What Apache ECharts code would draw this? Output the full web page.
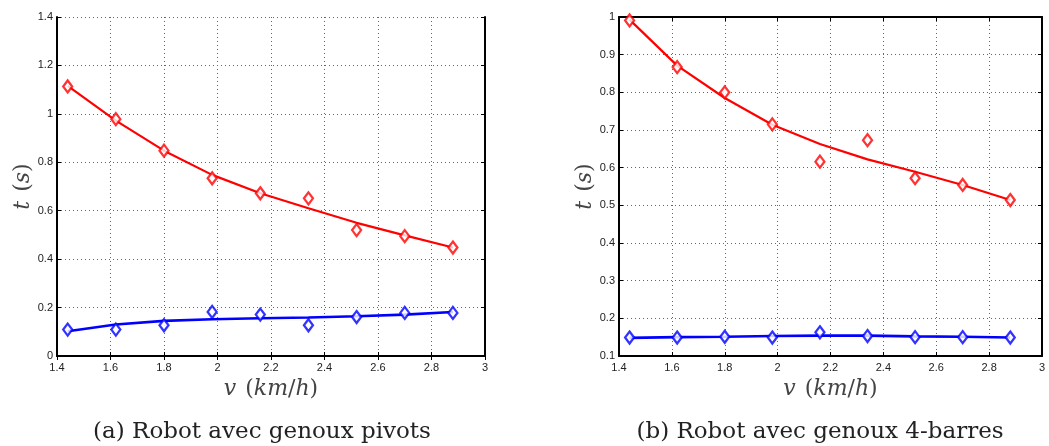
<!DOCTYPE html>
<html>
<head>
<meta charset="utf-8">
<script src="https://cdn.jsdelivr.net/npm/echarts@6/dist/echarts.min.js"></script>
<style>
html,body{margin:0;padding:0;background:#fff;}
#c{width:1049px;height:446px;}
</style>
</head>
<body>
<div id="c"></div>
<script>
// Speeds (km/h)
const vKmh = [1.44, 1.62, 1.80, 1.98, 2.16, 2.34, 2.52, 2.70, 2.88];

// (a) Robot avec genoux pivots
const pivotRedMeas  = [1.113, 0.978, 0.848, 0.734, 0.672, 0.651, 0.520, 0.495, 0.448];
const pivotRedFit   = [1.116, 0.972, 0.848, 0.748, 0.672, 0.610, 0.550, 0.498, 0.448];
const pivotBlueMeas = [0.109, 0.109, 0.127, 0.182, 0.171, 0.127, 0.161, 0.178, 0.178];
const pivotBlueFit  = [0.102, 0.130, 0.145, 0.152, 0.156, 0.159, 0.164, 0.171, 0.182];

// (b) Robot avec genoux 4-barres
const barresRedMeas  = [0.991, 0.867, 0.800, 0.715, 0.616, 0.673, 0.572, 0.554, 0.514];
const barresRedFit   = [0.993, 0.871, 0.785, 0.714, 0.663, 0.622, 0.589, 0.554, 0.514];
const barresBlueMeas = [0.149, 0.149, 0.151, 0.149, 0.163, 0.153, 0.150, 0.150, 0.149];
const barresBlueFit  = [0.148, 0.150, 0.151, 0.153, 0.154, 0.154, 0.152, 0.151, 0.149];

const captions = ['(a) Robot avec genoux pivots', '(b) Robot avec genoux 4-barres'];

const pair = (xs, ys) => xs.map((x, i) => [x, ys[i]]);

const tickFont = {fontFamily: 'Liberation Sans', fontSize: 11, color: '#222'};
const nameSerif = 'DejaVu Serif';
const nameRich = {
  i: {fontFamily: nameSerif, fontStyle: 'italic', fontSize: 22, color: '#444'},
  r: {fontFamily: nameSerif, fontSize: 22, color: '#444'},
  sp: {fontFamily: nameSerif, fontSize: 22, width: 9}
};
const dotted = {show: true, lineStyle: {color: '#666', width: 1, type: [1, 3]}};

function xAxes(g) {
  return [
    {type: 'value', gridIndex: g, min: 1.4, max: 3, interval: 0.2, position: 'bottom',
     axisLine: {show: true, lineStyle: {color: '#000', width: 2}},
     axisTick: {show: true, inside: true, length: 4, lineStyle: {color: '#000'}},
     axisLabel: Object.assign({margin: 6}, tickFont),
     splitLine: dotted,
     name: '{i|v}{sp| }{r|(}{i|km}{r|/}{i|h}{r|)}', nameLocation: 'middle', nameGap: 13,
     nameTextStyle: {rich: nameRich, verticalAlign: 'top'}},
    {type: 'value', gridIndex: g, min: 1.4, max: 3, interval: 0.2, position: 'top',
     axisLine: {show: true, lineStyle: {color: '#000', width: 2}},
     axisTick: {show: true, inside: true, length: 4, lineStyle: {color: '#000'}},
     axisLabel: {show: false}, splitLine: {show: false}}
  ];
}
function yAxes(g, min, max, interval) {
  return [
    {type: 'value', gridIndex: g, min: min, max: max, interval: interval, position: 'left',
     axisLine: {show: true, lineStyle: {color: '#000', width: 2}},
     axisTick: {show: true, inside: true, length: 4, lineStyle: {color: '#000'}},
     axisLabel: Object.assign({margin: 4}, tickFont),
     splitLine: dotted,
     name: '{i|t}{sp| }{r|(}{i|s}{r|)}', nameLocation: 'middle', nameGap: 20,
     nameTextStyle: {rich: nameRich}},
    {type: 'value', gridIndex: g, min: min, max: max, interval: interval, position: 'right',
     axisLine: {show: true, lineStyle: {color: '#000', width: 2}},
     axisTick: {show: true, inside: true, length: 4, lineStyle: {color: '#000'}},
     axisLabel: {show: false}, splitLine: {show: false}}
  ];
}

function lineS(xi, yi, data, color, w) {
  return {type: 'line', xAxisIndex: xi, yAxisIndex: yi, data: data, showSymbol: false,
          symbol: 'none', lineStyle: {color: color, width: w}, z: 3, silent: true};
}
function markS(xi, yi, data, color) {
  return {type: 'scatter', xAxisIndex: xi, yAxisIndex: yi, data: data, symbol: 'diamond',
          symbolSize: [9, 12], itemStyle: {color: '#fff', borderColor: color, borderWidth: 2.3},
          z: 4, silent: true};
}

const option = {
  animation: false,
  grid: [
    {left: 57, top: 17, width: 428, height: 339},
    {left: 619, top: 17, width: 423, height: 339}
  ],
  xAxis: [...xAxes(0), ...xAxes(1)],
  yAxis: [...yAxes(0, 0, 1.4, 0.2), ...yAxes(1, 0.1, 1, 0.1)],
  series: [
    lineS(0, 0, pair(vKmh, pivotRedFit), '#ff0000', 2.2),
    markS(0, 0, pair(vKmh, pivotRedMeas), '#ff0000'),
    lineS(0, 0, pair(vKmh, pivotBlueFit), '#0000ff', 2.6),
    markS(0, 0, pair(vKmh, pivotBlueMeas), '#0000ff'),
    lineS(2, 2, pair(vKmh, barresRedFit), '#ff0000', 2.2),
    markS(2, 2, pair(vKmh, barresRedMeas), '#ff0000'),
    lineS(2, 2, pair(vKmh, barresBlueFit), '#0000ff', 2.6),
    markS(2, 2, pair(vKmh, barresBlueMeas), '#0000ff')
  ],
  graphic: [
    {type: 'text', x: 262, y: 432, style: {text: captions[0], fontFamily: 'DejaVu Serif', fontSize: 23,
      fill: '#222', align: 'center', verticalAlign: 'middle'}},
    {type: 'text', x: 820, y: 432, style: {text: captions[1], fontFamily: 'DejaVu Serif', fontSize: 23,
      fill: '#222', align: 'center', verticalAlign: 'middle'}}
  ]
};

const chart = echarts.init(document.getElementById('c'), null, {renderer: 'canvas'});
chart.setOption(option);
</script>
</body>
</html>
